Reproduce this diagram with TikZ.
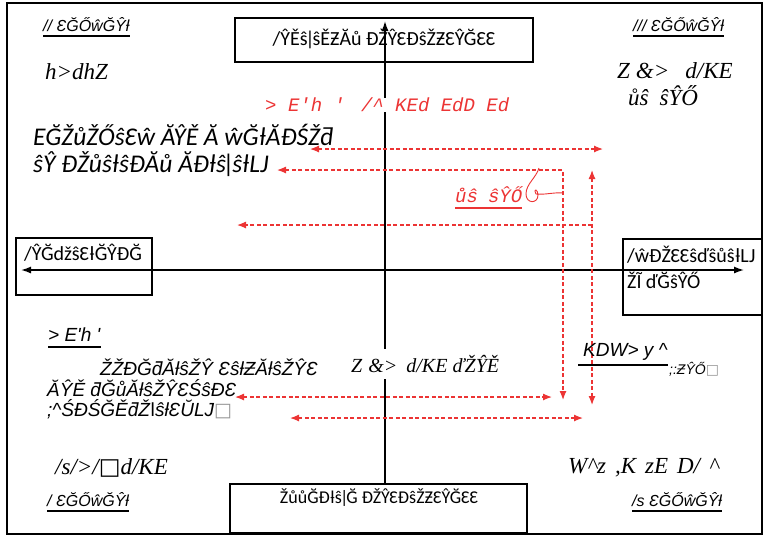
\documentclass[tikz,border=0pt]{standalone}
\usepackage{fontspec}
\setmainfont{Liberation Serif}
\newfontfamily\fcal{Carlito}
\newfontfamily\fari{Liberation Sans}
\newfontfamily\fser{Liberation Serif}
\newfontfamily\fmon{Liberation Mono}
\newfontfamily\fdjv{DejaVu Sans}
\usetikzlibrary{arrows.meta}
\definecolor{rd}{RGB}{236,52,52}
\definecolor{tofugray}{RGB}{150,150,150}
\newcommand{\tofubox}[1]{{\fdjv\color{#1}\char"25A1}}
\begin{document}
\begin{tikzpicture}[x=1pt,y=-1pt,
  frame/.style={line width=1.8pt},
  bbox/.style={draw,line width=2.6pt,inner sep=0pt},
  lbl/.style={anchor=west,inner sep=0pt},
  seglbl/.style={lbl,font=\fari\itshape\fontsize{16}{18}\selectfont},
  serlbl/.style={lbl,font=\fser\itshape\fontsize{23}{25}\selectfont},
  callbl/.style={lbl,font=\fcal\itshape\fontsize{25.5}{27}\selectfont},
  arilbl/.style={lbl,font=\fari\itshape\fontsize{19}{20.5}\selectfont},
  boxtxt/.style={inner sep=0pt,font=\fcal\fontsize{20}{26}\selectfont},
  uline/.style={line width=2.4pt},
  axis/.style={line width=1.4pt},
  axtip/.style={-{Latex[length=10pt,width=7pt]}},
  axboth/.style={{Latex[length=10pt,width=7pt]}-{Latex[length=10pt,width=7pt]}},
  rdash/.style={draw=rd,line width=1.2pt,dash pattern=on 4pt off 2.5pt},
  rboth/.style={{Latex[length=9pt,width=7pt]}-{Latex[length=9pt,width=7pt]}},
  rtip/.style={-{Latex[length=9pt,width=7pt]}}
]
\useasboundingbox (0,0) rectangle (767,539);
\draw[frame] (7,3) rectangle (762,534);

% boxes
\node[bbox,minimum width=298pt,minimum height=44pt] (top) at (384,40) {};
\node[boxtxt] (toptext) at (384,39) {/ŶĚŝǀŝĚƵĂů ĐŽŶƐĐŝŽƵƐŶĞƐƐ};
\node[bbox,line width=2pt,minimum width=297pt,minimum height=49pt] (bot) at (378.5,508.5) {};
\node[boxtxt,font=\fcal\fontsize{18}{20}\selectfont] (bottext) at (379,498) {ŽůůĞĐƚŝǀĞ ĐŽŶƐĐŝŽƵƐŶĞƐƐ};
\node[bbox,minimum width=136pt,minimum height=57pt] (lbox) at (84,266.5) {};
\node[boxtxt,anchor=west] (ltext) at (24,253) {/ŶĞdžŝƐƚĞŶĐĞ};
\node[bbox,minimum width=139pt,minimum height=76pt] (rbox) at (692.5,277) {};
\node[boxtxt,anchor=west,align=left] (rtext) at (627,267) {/ŵƉŽƐƐŝďŝůŝƚLJ\\ŽĨ ďĞŝŶŐ};

% axes
\coordinate (hl) at (21,270);
\coordinate (hr) at (744,270);
\draw[axis,axboth] (hl) -- (hr);
\coordinate (vt) at (385,21);
\draw[axis,axtip] (vt |- bot.north) -- (vt);

% corner labels
\node[seglbl] (seg2) at (43,25) {// ƐĞŐŵĞŶƚ};
\draw[uline] ([yshift=-4pt]seg2.south west) -- ([yshift=-4pt]seg2.south east);
\node[serlbl] (cult) at (45,72) {h>dhZ};
\node[seglbl] (seg3) at (633,25) {/// ƐĞŐŵĞŶƚ};
\draw[uline] ([yshift=-4pt]seg3.south west) -- ([yshift=-4pt]seg3.south east);
\node[serlbl] (refl) at (617,71) {Z\hspace{6pt}\&>\hspace{16pt}d/KE};
\node[serlbl] (liv) at (628,96) {ůŝ\hspace{11pt}ŝŶŐ};
\node[seglbl] (seg1) at (47,500) {/ ƐĞŐŵĞŶƚ};
\draw[uline] ([yshift=-4pt]seg1.south west) -- ([yshift=-4pt]seg1.south east);
\node[seglbl] (seg4) at (632,500) {/s ƐĞŐŵĞŶƚ};
\draw[uline] ([yshift=-4pt]seg4.south west) -- ([yshift=-4pt]seg4.south east);
\node[serlbl] (civ) at (55,468) {/s/>/\tofubox{black}d/KE};
\node[serlbl] (psy) at (568,468) {W\textasciicircum z\hspace{9pt},K\hspace{9pt}zE\hspace{9pt}D/\hspace{9pt}\textasciicircum};

% red title
\node[lbl,fill=white,font=\fmon\itshape\fontsize{19}{20}\selectfont,text=rd] (rlang) at (265,105) {> E'h '\hspace{16pt}/\textasciicircum{} KEd EdD Ed};

% left texts
\node[callbl] (neo1) at (33,135) {EĞŽůŽŐŝƐŵ ĂŶĚ Ă ŵĞƚĂƉŚŽƌ};
\node[callbl] (neo2) at (33,164) {ŝŶ ƉŽůŝƚŝĐĂů ĂĐƚŝǀŝƚLJ};

% red living
\node[lbl,font=\fmon\itshape\fontsize{19}{20}\selectfont,text=rd] (rliv) at (455,195) {ůŝ\hspace{10pt}ŝŶŐ};
\draw[rd,line width=2pt] ([yshift=-5pt]rliv.south west) -- ([yshift=-5pt]rliv.south east);

% red arrows
\coordinate (a1l) at (310,149); \coordinate (a1r) at (603,149);
\draw[rdash,rboth] (a1l) -- (a1r);
\coordinate (a2l) at (277,170); \coordinate (a2c) at (563,170); \coordinate (a2b) at (563,400);
\draw[rdash,rboth] (a2l) -- (a2c) -- (a2b);
\coordinate (vrt) at (592,170); \coordinate (vrb) at (592,405);
\draw[rdash,rboth] (vrt) -- (vrb);
\coordinate (a3l) at (237,225); \coordinate (a3r) at (592,225);
\draw[rdash,rtip] (a3r) -- (a3l);
\coordinate (b1l) at (235,397); \coordinate (b1r) at (552,397);
\draw[rdash,rboth] (b1l) -- (b1r);
\coordinate (b2l) at (290,418); \coordinate (b2r) at (583,418);
\draw[rdash,rboth] (b2l) -- (b2r);
\coordinate (cs) at (539,168); \coordinate (ce) at (563,193);
\draw[rd,line width=0.9pt] (cs) .. controls (536,178) and (526,184) .. (526,194)
  .. controls (526,204) and (538,204) .. (538,195)
  .. controls (538,189) and (533,188) .. (536,194)
  .. controls (545,195) and (555,192) .. (ce);

% bottom-left texts
\node[lbl,font=\fari\itshape\fontsize{19}{20}\selectfont] (lang) at (48,335) {> E'h '};
\draw[uline] ([yshift=-5pt]lang.south west) -- ([yshift=-5pt]lang.south east);
\node[arilbl,align=left] (coop) at (47,389) {\hspace*{53pt}ŽŽƉĞƌĂƚŝŽŶ ƐŝƚƵĂƚŝŽŶƐ\\ĂŶĚ ƌĞůĂƚŝŽŶƐŚŝƉƐ\\;\textasciicircum ŚĐŚĞĚƌŽǀŝƚƐŬLJ\tofubox{tofugray}};
\node[serlbl,font=\fser\itshape\fontsize{20}{22}\selectfont,fill=white,inner ysep=6pt] (reflb) at (351,364) {Z\hspace{6pt}\&>\hspace{9pt}d/KE ďŽŶĚ};

% right-bottom texts
\node[arilbl] (comp) at (583,352) {KDW> y \textasciicircum};
\draw[uline] ([yshift=-4pt,xshift=-5pt]comp.south west) -- ([yshift=-4pt]comp.south east);
\node[lbl,font=\fari\itshape\fontsize{14}{15}\selectfont] (jung) at (669,369) {;:ƵŶŐ\tofubox{tofugray}};
\end{tikzpicture}
\end{document}
